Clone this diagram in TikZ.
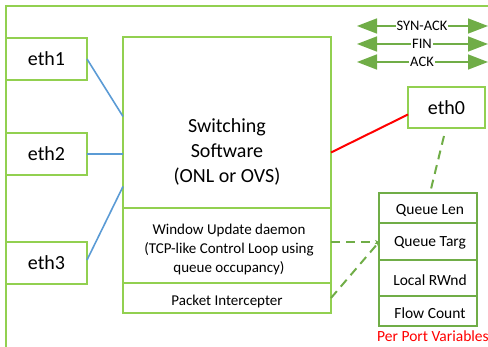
\documentclass[tikz,border=0pt]{standalone}
\usepackage{fontspec}
\setmainfont{Carlito}
\usetikzlibrary{arrows.meta,calc}
\definecolor{lgreen}{HTML}{92D050}
\definecolor{dgreen}{HTML}{70AD47}
\definecolor{lblue}{HTML}{5B9BD5}
\tikzset{
  boxstyle/.style={draw=lgreen,line width=1.3pt,inner sep=0pt,outer sep=0pt,anchor=north west,align=center},
  varbox/.style={draw=dgreen,line width=2pt,inner sep=0pt,outer sep=0pt,anchor=north west,minimum width=98pt},
  vartext/.style={font=\fontsize{15.5}{17}\selectfont,inner sep=0pt},
  blueline/.style={draw=lblue,line width=1.6pt},
  dashline/.style={draw=dgreen,line width=2pt,dash pattern=on 9pt off 6pt},
  legarrow/.style={draw=dgreen,line width=1.5pt,{Triangle[length=20pt,width=15pt]}-{Triangle[length=20pt,width=15pt]}},
  leglabel/.style={fill=white,inner sep=1pt,font=\fontsize{14.5}{16}\selectfont}
}
\begin{document}
\begin{tikzpicture}[x=1pt,y=-1pt]
\useasboundingbox (0,0) rectangle (488,347);
% outer frame
\draw[lgreen,line width=1.3pt] (6,347) -- (6,6) -- (488,6);
% eth boxes
\node[boxstyle,minimum width=81pt,minimum height=42pt,font=\fontsize{20}{24}\selectfont] (eth1) at (6,38) {eth1};
\node[boxstyle,minimum width=81pt,minimum height=42pt,font=\fontsize{20}{24}\selectfont] (eth2) at (6,133) {eth2};
\node[boxstyle,minimum width=81pt,minimum height=42pt,font=\fontsize{20}{24}\selectfont] (eth3) at (6,242) {eth3};
\node[boxstyle,minimum width=77pt,minimum height=41pt,font=\fontsize{20}{24}\selectfont] (eth0) at (408,87) {eth0};
% switch box
\node[boxstyle,minimum width=208pt,minimum height=171pt] (swtop) at (123,37) {};
\node[align=center,font=\fontsize{20}{25}\selectfont] (swtext) at (227,152) {Switching\\Software\\(ONL or OVS)};
\node[boxstyle,minimum width=208pt,minimum height=75pt] (wud) at (123,208) {};
\node[align=center,font=\fontsize{15}{19}\selectfont] (wudtext) at (229,250) {Window Update daemon\\(TCP-like Control Loop using\\queue occupancy)};
\node[boxstyle,minimum width=208pt,minimum height=30pt] (pkt) at (123,283) {};
\node[font=\fontsize{15}{17}\selectfont] (pkttext) at (227,302) {Packet Intercepter};
% per port variables
\node[varbox,minimum height=30pt] (ql) at (379,193) {};
\node[varbox,minimum height=37pt] (qt) at (379,223) {};
\node[varbox,minimum height=36pt] (lr) at (379,260) {};
\node[varbox,minimum height=30pt] (fc) at (379,296) {};
\node[vartext] (qltext) at (430,210) {Queue Len};
\node[vartext] (qttext) at (430,243) {Queue Targ};
\node[vartext] (lrtext) at (430,280) {Local RWnd};
\node[vartext] (fctext) at (430,313) {Flow Count};
\node[text=red,font=\fontsize{15.5}{17}\selectfont,inner sep=0pt] (ppv) at (433,336) {Per Port Variables};
% connectors
\coordinate (qtin) at ($(qt.west)+(0,0.5)$);
\draw[blueline] (eth1.east) -- ($(swtop.west)+(0,-6)$);
\draw[blueline] (eth2.east) -- (eth2.east -| swtop.west);
\draw[blueline] ($(eth3.east)+(0,-3)$) -- ($(swtop.west)+(0,64)$);
\draw[red,line width=2pt] ($(swtop.east)+(0,30)$) -- ($(eth0.west)+(0,7)$);
\draw[dashline] ($(eth0.south)+(-2.5,8)$) -- ($(ql.north)+(2,0)$);
\draw[dashline,-{Stealth[length=4pt,width=4pt]}] (wud.east |- qtin) -- (qtin);
\draw[dashline,-{Stealth[length=4pt,width=4pt]}] (pkt.east) -- (qtin);
% legend
\coordinate (a1) at (357,26); \coordinate (b1) at (488,26);
\coordinate (a2) at (357,44); \coordinate (b2) at (488,44);
\coordinate (a3) at (357,62); \coordinate (b3) at (488,62);
\draw[legarrow] (a1) -- (b1) node[midway,xshift=-0.5pt,leglabel] (l1) {SYN-ACK};
\draw[legarrow] (a2) -- (b2) node[midway,xshift=-0.5pt,leglabel] (l2) {FIN};
\draw[legarrow] (a3) -- (b3) node[midway,xshift=-0.5pt,leglabel] (l3) {ACK};
\end{tikzpicture}
\end{document}
